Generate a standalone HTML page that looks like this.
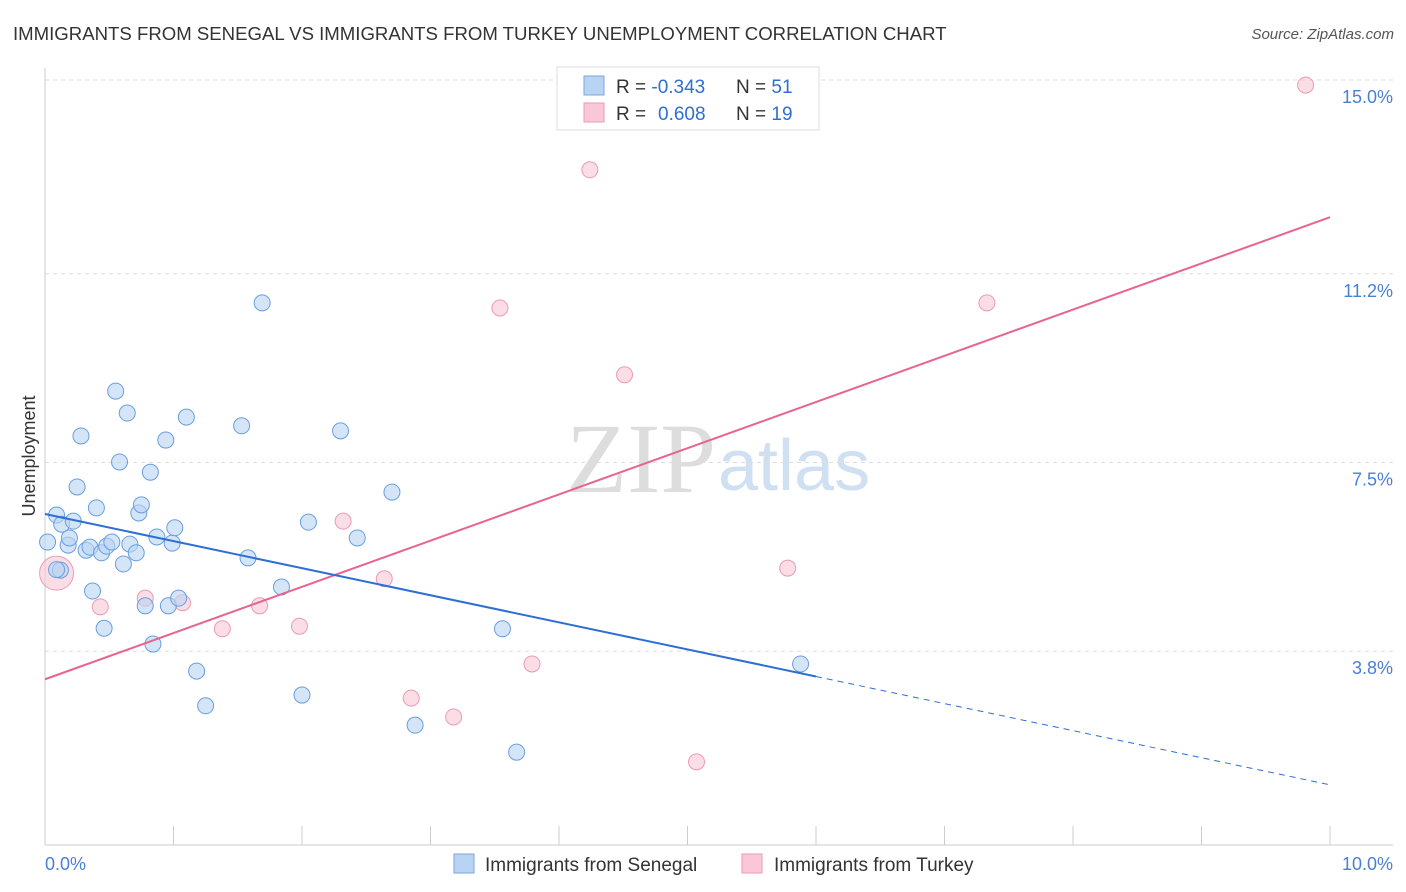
<!DOCTYPE html>
<html><head><meta charset="utf-8"><style>
body{margin:0;background:#fff;font-family:"Liberation Sans",sans-serif;}
svg{display:block}
</style></head><body>
<svg width="1406" height="892" xmlns="http://www.w3.org/2000/svg">
<text x="13" y="40" font-size="18.6" fill="#333">IMMIGRANTS FROM SENEGAL VS IMMIGRANTS FROM TURKEY UNEMPLOYMENT CORRELATION CHART</text>
<text x="1394" y="39" font-size="15" fill="#555" font-style="italic" text-anchor="end">Source: ZipAtlas.com</text>
<text x="716" y="492" font-size="100" fill="#ddd" text-anchor="end" font-family="Liberation Serif,serif">ZIP</text>
<text x="718" y="490" font-size="72" fill="#cfe0f3">atlas</text>
<g id="grid"></g>
<g id="axes"></g>
<g id="marks"></g>
<text x="35" y="456" font-size="18" fill="#333" text-anchor="middle" transform="rotate(-90 35 456)">Unemployment</text>
<g>
<rect x="557" y="67" width="262" height="63" fill="#fff" stroke="#ddd"/>
<rect x="584" y="76" width="20" height="19" fill="#b9d3f3" stroke="#7aa7e0"/>
<rect x="584" y="103" width="20" height="19" fill="#f9c7d6" stroke="#eb9bb5"/>
<text x="616" y="93" font-size="19" fill="#333">R = <tspan fill="#2d6fd2">-0.343</tspan><tspan x="736">N = </tspan><tspan fill="#2d6fd2">51</tspan></text>
<text x="616" y="120" font-size="19" fill="#333">R = <tspan fill="#2d6fd2" x="658">0.608</tspan><tspan x="736">N = </tspan><tspan fill="#2d6fd2">19</tspan></text>
</g>
<g>
<rect x="454" y="854" width="20" height="19" fill="#b9d3f3" stroke="#7aa7e0"/>
<text x="485" y="871" font-size="19" fill="#333">Immigrants from Senegal</text>
<rect x="742" y="854" width="20" height="19" fill="#f9c7d6" stroke="#eb9bb5"/>
<text x="774" y="871" font-size="19" fill="#333">Immigrants from Turkey</text>
</g>
</svg>
<script>
const yTicks=[15.0,11.2,7.5,3.8];
const yTickLabels=["15.0%","11.2%","7.5%","3.8%"];
const xTickLabels=["0.0%","10.0%"];
const senegalX=[0.02,0.09,0.12,0.13,0.18,0.19,0.22,0.25,0.28,0.32,0.35,0.37,0.40,0.44,0.46,0.48,0.52,0.55,0.58,0.61,0.64,0.66,0.71,0.73,0.75,0.78,0.82,0.84,0.87,0.94,0.96,0.99,1.01,1.04,1.10,1.18,1.25,1.53,1.58,1.69,1.84,2.00,2.05,2.30,2.43,2.70,2.88,3.56,3.67,5.88,0.09];
const senegalY=[5.94,6.47,5.39,6.29,5.88,6.02,6.35,7.02,8.02,5.78,5.84,4.98,6.61,5.73,4.25,5.86,5.94,8.90,7.51,5.51,8.47,5.90,5.73,6.51,6.67,4.69,7.31,3.94,6.04,7.94,4.69,5.92,6.22,4.84,8.39,3.41,2.73,8.22,5.63,10.63,5.06,2.94,6.33,8.12,6.02,6.92,2.35,4.24,1.82,3.55,5.40];
const turkeyX=[0.09,0.43,0.78,1.07,1.38,1.67,1.98,2.32,2.64,2.85,3.18,3.54,3.79,4.24,4.51,5.07,5.78,7.33,9.81];
const turkeyY=[5.33,4.67,4.84,4.75,4.24,4.69,4.29,6.35,5.22,2.88,2.51,10.53,3.55,13.24,9.22,1.63,5.43,10.63,14.90];
const senegalFit=[6.49,-0.531];
const turkeyFit=[3.25,0.906];
const X=v=>45+128.5*v, Y=v=>845-51*v;
const NS="http://www.w3.org/2000/svg";
function mk(t,a,p){const e=document.createElementNS(NS,t);for(const k in a)e.setAttribute(k,a[k]);p.appendChild(e);return e;}
const grid=document.getElementById('grid'),axes=document.getElementById('axes'),marks=document.getElementById('marks');
yTicks.forEach((v,i)=>{
 const l=mk('line',{x1:45,x2:1393,y1:Y(v),y2:Y(v),stroke:'#ddd','stroke-dasharray':'4,4'},grid);
 
 
 const t=mk('text',{x:1393,y:Y(v)+23,'font-size':18,fill:'#4a7fd6','text-anchor':'end'},axes);
 t.textContent=yTickLabels[i];
 
 
});
mk('line',{x1:45,x2:45,y1:68,y2:845,stroke:'#ccc'},axes);
mk('line',{x1:45,x2:1393,y1:845,y2:845,stroke:'#ccc'},axes);
for(let i=1;i<=10;i++){const t=mk('line',{x1:X(i),x2:X(i),y1:826,y2:845,stroke:'#ccc'},axes);}
[[0,45,'start'],[10,1393,'end']].forEach((d,i)=>{const t=mk('text',{x:d[1],y:870,'font-size':18,fill:'#4a7fd6','text-anchor':d[2]},axes);t.textContent=xTickLabels[i];});
turkeyX.forEach((x,i)=>{const c=mk('circle',{cx:X(x),cy:Y(turkeyY[i]),r:i==0?17:8,fill:'#f9c7d6','fill-opacity':0.6,stroke:'#eb9bb5'},marks);});
senegalX.forEach((x,i)=>{const c=mk('circle',{cx:X(x),cy:Y(senegalY[i]),r:8,fill:'#b9d3f3','fill-opacity':0.6,stroke:'#6a9ee0'},marks);});
const f=(fit,x)=>fit[0]+fit[1]*x;
let l=mk('line',{x1:X(0),y1:Y(f(turkeyFit,0)),x2:X(10),y2:Y(f(turkeyFit,10)),stroke:'#e8648e','stroke-width':2},marks);


l=mk('line',{x1:X(0),y1:Y(f(senegalFit,0)),x2:X(6),y2:Y(f(senegalFit,6)),stroke:'#2d6fd2','stroke-width':2},marks);


l=mk('line',{x1:X(6),y1:Y(f(senegalFit,6)),x2:X(10),y2:Y(f(senegalFit,10)),stroke:'#2d6fd2','stroke-width':1,'stroke-dasharray':'6,5'},marks);


</script>
</body></html>
